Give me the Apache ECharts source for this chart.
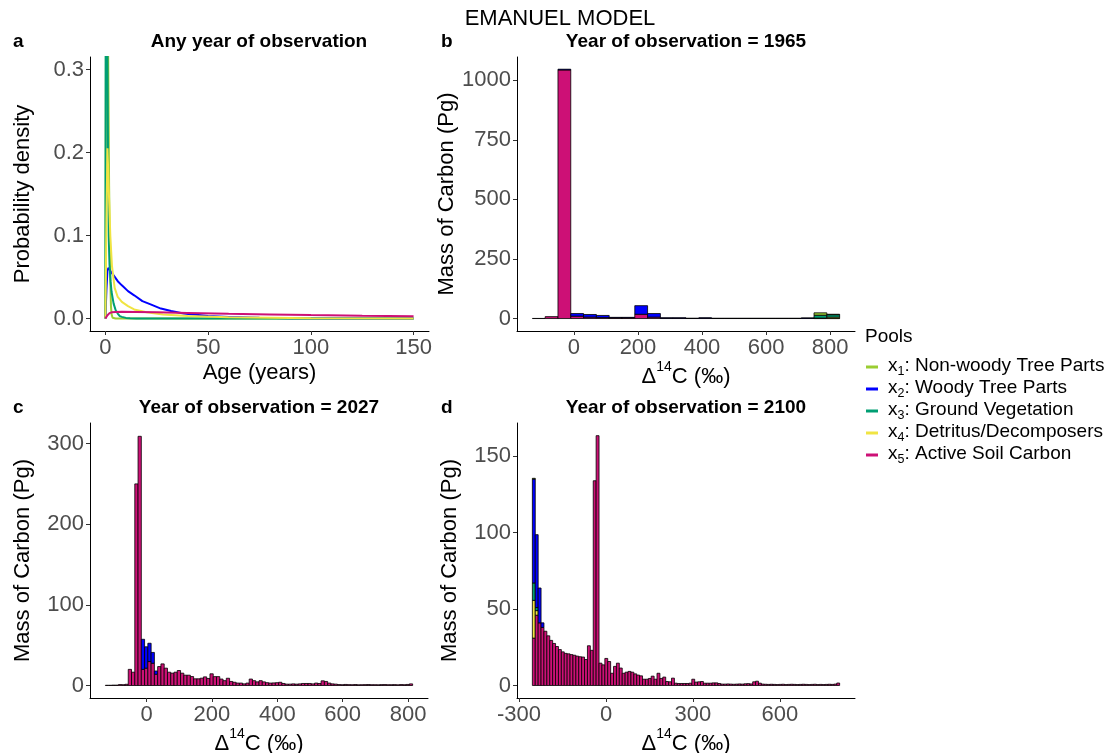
<!DOCTYPE html>
<html>
<head>
<meta charset="utf-8">
<title>Emanuel model</title>
<script src="https://cdn.jsdelivr.net/npm/echarts@6/dist/echarts.min.js"></script>
<style>
  html, body { margin: 0; padding: 0; background: #fff; }
  #main { width: 1111px; height: 753px; }
</style>
</head>
<body>
<div id="main"></div>
<script>
var FONT = "'Liberation Sans', Arial, Helvetica, sans-serif";

var poolNames = ['Non-woody Tree Parts', 'Woody Tree Parts', 'Ground Vegetation',
                 'Detritus/Decomposers', 'Active Soil Carbon'];
var poolColors = ['#9ACD32', '#0000FF', '#009E73', '#F0E442', '#CD1076'];

// panel a: transit-time densities, [age, density]
var densX1 = [[0, 0], [0.3, 0.4], [0.8, 0.45], [1.3, 0.33], [1.8, 0.16], [2.1, 0.09], [2.4, 0.043],
              [2.7, 0.015], [3, 0.005], [3.5, 0.001], [5, 0], [150, 0]];
var densX2 = [[0, 0], [0.5, 0.035], [1, 0.058], [1.5, 0.061], [2.5, 0.057], [4, 0.052], [6, 0.045],
              [8, 0.04], [11, 0.033], [14, 0.028], [18, 0.021], [22, 0.017], [27, 0.012], [32, 0.009],
              [38, 0.006], [44, 0.0045], [50, 0.003], [60, 0.0018], [75, 0.0009], [90, 0.0004],
              [110, 0.0002], [150, 0]];
var densX3 = [[0, 0], [0.2, 0.5], [0.6, 0.5], [1.0, 0.32], [1.3, 0.18], [1.6, 0.1], [2, 0.065],
              [2.5, 0.045], [3, 0.032], [4, 0.018], [5, 0.01], [6, 0.006], [7, 0.003], [8, 0.002],
              [10, 0.0008], [12, 0.0003], [15, 0], [150, 0]];
var densX4 = [[0, 0], [0.5, 0.12], [1, 0.205], [1.4, 0.175], [1.8, 0.143], [2.4, 0.099], [3.2, 0.063],
              [4.5, 0.037], [6, 0.026], [8, 0.02], [11, 0.015], [14, 0.011], [20, 0.0075], [28, 0.005],
              [40, 0.003], [60, 0.0015], [100, 0.0005], [150, 0.0002]];
var densX5 = [[0, 0], [0.5, 0.002], [1, 0.004], [2, 0.0065], [3, 0.0075], [5, 0.008], [8, 0.0082],
              [15, 0.008], [25, 0.0075], [40, 0.0068], [60, 0.0058], [80, 0.005], [100, 0.0042],
              [125, 0.0035], [150, 0.0029]];

// panel b: year 1965, 40 permil bins from -130
var binStartB = -130, binWidthB = 40;
var massB_x1 = [0, 0, 0, 0, 0, 0, 0, 0, 0, 0, 0, 0, 0, 0, 0, 0, 0, 0, 0, 0, 0, 0, 10, 2];
var massB_x2 = [0, 0, 3, 11, 11, 9, 2, 2, 36, 15, 1.5, 1.5, 0.5, 1.5, 0.3, 0.3, 0.3, 0.3, 0.3, 0.3, 0.3, 1.5, 0, 0];
var massB_x3 = [0, 0, 0, 0, 0, 0, 0, 0, 0, 0, 0, 0, 0, 0, 0, 0, 0, 0, 0, 0, 0, 0, 12, 10];
var massB_x4 = [0, 0, 0, 0, 0, 0, 0, 0, 0, 0, 0, 0, 0, 0, 0, 0, 0, 0, 0, 0, 0, 0, 2, 6];
var massB_x5 = [0.5, 8, 1043, 10, 6, 4, 3, 3, 18, 6, 1.5, 1.5, 0.5, 1.5, 0.5, 0.5, 0.5, 0.5, 0.5, 0.5, 0.5, 1, 0, 0];

// panel c: year 2027, 10 permil bins from -126
var binStartC = -126, binWidthC = 10;
var massC_x2 = [0, 0, 0, 0, 0, 0, 0, 0, 0, 0, 0, 37.3, 26.5, 22.7, 13.4, 4];
var massC_x5 = [0.3, 0.3, 0.5, 0.5, 1.2, 1.0, 1.5, 20, 16.5, 250, 309, 20, 21.5, 29.7, 27.6, 14,
                23.5, 26.8, 21.5, 16.5, 15.3, 16.5, 18.6, 15.3, 12.8, 12.8, 11.1, 8.3, 8.3, 9.1, 10.7, 8.7,
                14.5, 11, 11, 8, 6, 9, 5, 4, 3, 3, 2, 3, 8, 6, 4.5, 6, 4.5, 3.5, 3, 3.2, 3.5, 4, 2.5,
                1.7, 1.7, 2, 1.7, 2, 2.5, 2.5, 2.5, 2, 3, 2.5, 5.8, 5, 3, 2, 1.7,
                1.2, 1, 1.3, 1.1, 1, 1.2, 0.9, 1, 1.1, 1.2, 1, 1, 0.9, 1.1, 1.2, 1, 1, 1.1, 0.9, 1.2, 1, 1.3, 2];

// panel d: year 2100, 10 permil bins from -254
var binStartD = -254, binWidthD = 10;
var massD_x1 = [0.5];
var massD_x2 = [68, 47.7, 22.8, 3];
var massD_x3 = [11.4, 2];
var massD_x4 = [24.7, 3];
var massD_x5 = [31, 46, 41, 38,
                35.5, 32.5, 29.5, 27.5, 25.5, 23.5, 22, 21, 20.7, 20.2, 19.8, 19.2, 18.8, 18.6, 17.0,
                26, 23, 134, 163.5,
                14.6, 13.5, 17.7, 15.7, 8, 12.5, 14.6, 11.4, 8, 8.7, 9.2, 8.7, 7.6, 6.8, 6.3, 4.1, 4.1,
                4.6, 6.1, 4.1, 8, 4.6, 5.5, 2.6, 2.4, 4.8, 1.5, 1.3, 1.3, 1.3, 1.3, 1.5, 4.1, 2.2, 2.4,
                2.6, 1.5, 1.5, 1.5, 1.7, 1.7, 1.3,
                0.9, 0.9, 1.0, 0.9, 0.8, 0.9, 1.0, 0.9, 1.1, 1.2, 1.0,
                2.4, 2.8, 1.5,
                0.9, 0.8, 0.7, 0.8, 0.7, 0.6, 0.7, 0.8, 0.6, 0.7, 0.8, 0.7, 0.6, 0.7, 0.8, 0.7, 0.6,
                0.7, 0.8, 0.6, 0.7, 0.6, 0.7, 0.8, 0.7, 0.9,
                1.6];

// tick values
var ticksAgeX = [0, 50, 100, 150];
var ticksDensY = [0, 0.1, 0.2, 0.3];
var ticksDeltaX = [0, 200, 400, 600, 800];
var ticksDeltaXd = [-300, 0, 300, 600];
var ticksMassB = [0, 250, 500, 750, 1000];
var ticksMassC = [0, 100, 200, 300];
var ticksMassD = [0, 50, 100, 150];

var seriesNames = poolNames.map(function (n, i) { return 'x' + (i + 1) + ': ' + n; });

// stack pools bottom (x5) to top (x1) for every bin; empty pools are skipped
// except the bottom one, so empty bins still show their outline at zero
function histItems(start, width, pools) {
    var items = [];
    var n = pools[4].length;
    for (var i = 0; i < n; i++) {
        var x0 = start + i * width, x1 = x0 + width, base = 0;
        for (var p = 4; p >= 0; p--) {
            var v = pools[p][i] || 0;
            if (v > 0 || p === 4) items.push([x0, x1, base, base + v, p]);
            base += v;
        }
    }
    return items;
}

function renderHist(params, api) {
    var a = api.coord([api.value(0), api.value(3)]);
    var b = api.coord([api.value(1), api.value(2)]);
    return {
        type: 'rect',
        shape: { x: a[0], y: a[1], width: b[0] - a[0], height: b[1] - a[1] },
        style: { fill: poolColors[api.value(4)], stroke: '#000', lineWidth: 0.8 }
    };
}

var deltaName = '{d|Δ}{s|14}{d|C (‰)}';
var deltaRich = {
    d: { fontSize: 22, fontFamily: FONT, color: '#000', lineHeight: 28, verticalAlign: 'bottom' },
    s: { fontSize: 14, fontFamily: FONT, color: '#000', lineHeight: 14, verticalAlign: 'top' }
};

function plain(v) { return String(v); }

function makeAxis(gridIndex, min, max, ticks, name, gap, fmt, rich) {
    return {
        type: 'value', gridIndex: gridIndex, min: min, max: max,
        name: name, nameLocation: 'middle', nameGap: gap,
        nameTextStyle: { fontFamily: FONT, fontSize: 22, color: '#000', rich: rich },
        axisLine: { show: true, onZero: false, lineStyle: { color: '#000', width: 1 } },
        axisTick: { show: true, length: 4, customValues: ticks, lineStyle: { color: '#333' } },
        axisLabel: { show: true, customValues: ticks, margin: 6, fontFamily: FONT, fontSize: 22,
                     color: '#4D4D4D', formatter: fmt || plain },
        splitLine: { show: false }
    };
}

var chart = echarts.init(document.getElementById('main'));

var series = [];
[densX1, densX2, densX3, densX4, densX5].forEach(function (d, i) {
    series.push({
        type: 'line', name: seriesNames[i], xAxisIndex: 0, yAxisIndex: 0,
        data: d, showSymbol: false, clip: true,
        lineStyle: { color: poolColors[i], width: 2 }, itemStyle: { color: poolColors[i] }
    });
});
series.push({
    type: 'custom', xAxisIndex: 1, yAxisIndex: 1, renderItem: renderHist,
    encode: { x: [0, 1], y: [2, 3] },
    data: histItems(binStartB, binWidthB, [massB_x1, massB_x2, massB_x3, massB_x4, massB_x5])
});
series.push({
    type: 'custom', xAxisIndex: 2, yAxisIndex: 2, renderItem: renderHist,
    encode: { x: [0, 1], y: [2, 3] },
    data: histItems(binStartC, binWidthC, [[], massC_x2, [], [], massC_x5])
});
series.push({
    type: 'custom', xAxisIndex: 3, yAxisIndex: 3, renderItem: renderHist,
    encode: { x: [0, 1], y: [2, 3] },
    data: histItems(binStartD, binWidthD, [massD_x1, massD_x2, massD_x3, massD_x4, massD_x5])
});

function txt(x, y, text, size, weight, align) {
    return {
        type: 'text', x: x, y: y,
        style: { text: text, fontFamily: FONT, fontSize: size, fontWeight: weight || 'normal',
                 fill: '#000', align: align || 'center', verticalAlign: 'middle' }
    };
}

var option = {
    animation: false,
    backgroundColor: '#fff',
    grid: [
        { left: 90, top: 57, width: 339, height: 274, outerBoundsMode: 'none' },
        { left: 517, top: 57, width: 338, height: 274, outerBoundsMode: 'none' },
        { left: 90, top: 423, width: 338, height: 275, outerBoundsMode: 'none' },
        { left: 517, top: 423, width: 338, height: 275, outerBoundsMode: 'none' }
    ],
    xAxis: [
        makeAxis(0, -7.5, 157.5, ticksAgeX, 'Age (years)', 31),
        makeAxis(1, -178, 878, ticksDeltaX, deltaName, 24, null, deltaRich),
        makeAxis(2, -173, 861, ticksDeltaX, deltaName, 25, null, deltaRich),
        makeAxis(3, -307, 859, ticksDeltaXd, deltaName, 25, null, deltaRich)
    ],
    yAxis: [
        makeAxis(0, -0.015, 0.315, ticksDensY, 'Probability density', 56,
                 function (v) { return v.toFixed(1); }),
        makeAxis(1, -52.25, 1097.25, ticksMassB, 'Mass of Carbon (Pg)', 52),
        makeAxis(2, -15.5, 325.5, ticksMassC, 'Mass of Carbon (Pg)', 56),
        makeAxis(3, -8.2, 171.8, ticksMassD, 'Mass of Carbon (Pg)', 56)
    ],
    legend: {
        orient: 'vertical', left: 866, top: 356, padding: 0,
        itemWidth: 12, itemHeight: 3, itemGap: 0, icon: 'rect',
        selectedMode: false,
        data: seriesNames,
        formatter: function (name) {
            var n = name.charAt(1);
            return '{x|x}{sub|' + n + '}{t|' + name.slice(2) + '}';
        },
        textStyle: {
            fontFamily: FONT, fontSize: 19, color: '#000', lineHeight: 22,
            rich: {
                x: { fontFamily: FONT, fontSize: 19, color: '#000', lineHeight: 22, verticalAlign: 'top', padding: [0, 0, 0, 5] },
                sub: { fontFamily: FONT, fontSize: 12.5, color: '#000', lineHeight: 10, verticalAlign: 'bottom' },
                t: { fontFamily: FONT, fontSize: 19, color: '#000', lineHeight: 22, verticalAlign: 'top' }
            }
        }
    },
    graphic: [
        txt(560, 19, 'EMANUEL MODEL', 22),
        txt(13, 42, 'a', 19, 'bold', 'left'),
        txt(441, 42, 'b', 19, 'bold', 'left'),
        txt(13, 408, 'c', 19, 'bold', 'left'),
        txt(441, 408, 'd', 19, 'bold', 'left'),
        txt(259, 42, 'Any year of observation', 19, 'bold'),
        txt(686, 42, 'Year of observation = 1965', 19, 'bold'),
        txt(259, 408, 'Year of observation = 2027', 19, 'bold'),
        txt(686, 408, 'Year of observation = 2100', 19, 'bold'),
        txt(865, 337, 'Pools', 19, 'normal', 'left')
    ],
    series: series
};

chart.setOption(option);
</script>
</body>
</html>
